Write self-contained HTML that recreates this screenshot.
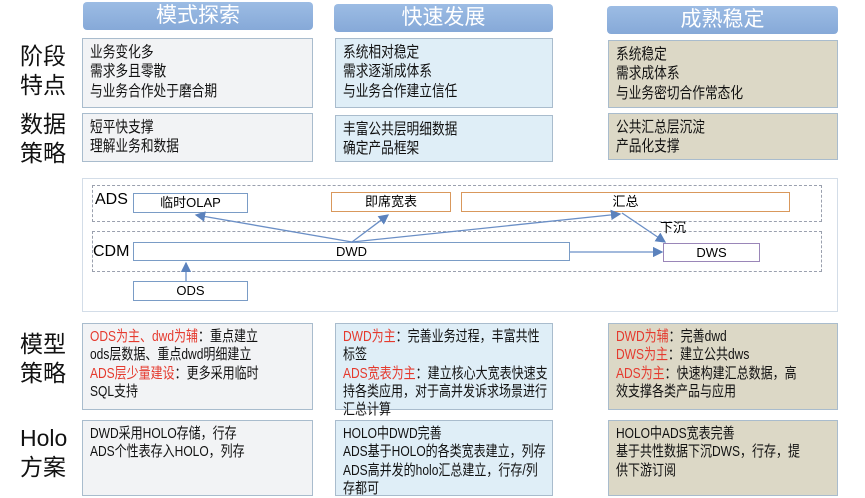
<!DOCTYPE html>
<html><head><meta charset="utf-8"><style>
body{margin:0;width:865px;height:498px;background:#fff;position:relative;overflow:hidden;font-family:"Liberation Sans","Noto Sans CJK SC",sans-serif;}
.a{position:absolute;box-sizing:border-box;}
.h{background:linear-gradient(#9cbce4,#86a9d8);color:#fff;font-size:21px;text-align:center;border-radius:4px;line-height:28px;}
.b{border:1.5px solid #a9bccd;padding:4px 7px;color:#111;}
.b>div{font-size:15.5px;line-height:19.3px;white-space:nowrap;transform:scaleX(0.82);transform-origin:0 0;}
.b>div.s{font-size:15px;line-height:18.3px;transform:scaleX(0.8);}
.c1{background:#f2f3f5;}.c2{background:#dfeef7;}.c3{background:#dcd8c6;}
.l{font-size:23px;line-height:29px;color:#111;}
.r{color:#e53a2e;}
.n{border:1.5px solid #7a9cc6;background:#fff;font-size:13px;text-align:center;line-height:17px;}
.o{border-color:#d9985c;}
.d{border:1.5px dashed #9aa0ae;}
</style></head><body>
<div class="a h" style="left:83px;top:2px;width:230px;height:28px">模式探索</div>
<div class="a h" style="left:334px;top:4px;width:219px;height:28px">快速发展</div>
<div class="a h" style="left:607px;top:6px;width:231px;height:28px">成熟稳定</div>

<div class="a l" style="left:20px;top:42px">阶段<br>特点</div>
<div class="a l" style="left:20px;top:110px">数据<br>策略</div>
<div class="a l" style="left:20px;top:330px">模型<br>策略</div>
<div class="a l" style="left:20px;top:424px">Holo<br>方案</div>

<div class="a b c1" style="left:82px;top:38px;width:231px;height:70px"><div>业务变化多<br>需求多且零散<br>与业务合作处于磨合期</div></div>
<div class="a b c2" style="left:335px;top:38px;width:218px;height:70px"><div>系统相对稳定<br>需求逐渐成体系<br>与业务合作建立信任</div></div>
<div class="a b c3" style="left:608px;top:40px;width:230px;height:68px"><div>系统稳定<br>需求成体系<br>与业务密切合作常态化</div></div>

<div class="a b c1" style="left:82px;top:113px;width:231px;height:49px"><div>短平快支撑<br>理解业务和数据</div></div>
<div class="a b c2" style="left:335px;top:115px;width:218px;height:47px"><div>丰富公共层明细数据<br>确定产品框架</div></div>
<div class="a b c3" style="left:608px;top:113px;width:230px;height:47px"><div>公共汇总层沉淀<br>产品化支撑</div></div>

<div class="a" style="left:82px;top:178px;width:756px;height:134px;border:1.5px solid #d3dde8;background:#fff"></div>
<div class="a d" style="left:92px;top:185px;width:730px;height:37px"></div>
<div class="a d" style="left:92px;top:231px;width:730px;height:41px"></div>
<div class="a" style="left:95px;top:191px;font-size:16px">ADS</div>
<div class="a" style="left:93px;top:243px;font-size:16px">CDM</div>
<div class="a n" style="left:133px;top:193px;width:115px;height:20px">临时OLAP</div>
<div class="a n o" style="left:331px;top:192px;width:120px;height:20px">即席宽表</div>
<div class="a n o" style="left:461px;top:192px;width:329px;height:20px">汇总</div>
<div class="a n" style="left:133px;top:242px;width:437px;height:19px">DWD</div>
<div class="a n" style="left:663px;top:243px;width:97px;height:19px;border-color:#9a86b8">DWS</div>
<div class="a n" style="left:133px;top:281px;width:115px;height:20px">ODS</div>
<div class="a" style="left:660px;top:217px;font-size:13px">下沉</div>
<svg class="a" style="left:0;top:0" width="865" height="498">
<defs><marker id="m" markerWidth="8" markerHeight="8" refX="7" refY="4" orient="auto"><path d="M0,0L8,4L0,8z" fill="#5b82bd"/></marker></defs>
<g stroke="#6b8fc6" stroke-width="1.3" fill="none" marker-end="url(#m)">
<line x1="352" y1="242" x2="196" y2="215"/>
<line x1="352" y1="242" x2="388" y2="215"/>
<line x1="352" y1="242" x2="620" y2="214"/>
<line x1="622" y1="213" x2="665" y2="242"/>
<line x1="570" y1="252" x2="662" y2="252"/>
<line x1="186" y1="281" x2="186" y2="263"/>
</g></svg>

<div class="a b c1" style="left:82px;top:323px;width:231px;height:87px"><div class="s"><span class="r">ODS为主、dwd为辅</span>：重点建立<br>ods层数据、重点dwd明细建立<br><span class="r">ADS层少量建设</span>：更多采用临时<br>SQL支持</div></div>
<div class="a b c2" style="left:335px;top:323px;width:218px;height:87px"><div class="s"><span class="r">DWD为主</span>：完善业务过程，丰富共性<br>标签<br><span class="r">ADS宽表为主</span>：建立核心大宽表快速支<br>持各类应用，对于高并发诉求场景进行<br>汇总计算</div></div>
<div class="a b c3" style="left:608px;top:323px;width:230px;height:87px"><div class="s"><span class="r">DWD为辅</span>：完善dwd<br><span class="r">DWS为主</span>：建立公共dws<br><span class="r">ADS为主</span>：快速构建汇总数据，高<br>效支撑各类产品与应用</div></div>

<div class="a b c1" style="left:82px;top:420px;width:231px;height:76px"><div class="s">DWD采用HOLO存储，行存<br>ADS个性表存入HOLO，列存</div></div>
<div class="a b c2" style="left:335px;top:420px;width:218px;height:76px"><div class="s">HOLO中DWD完善<br>ADS基于HOLO的各类宽表建立，列存<br>ADS高并发的holo汇总建立，行存/列<br>存都可</div></div>
<div class="a b c3" style="left:608px;top:420px;width:230px;height:76px"><div class="s">HOLO中ADS宽表完善<br>基于共性数据下沉DWS，行存，提<br>供下游订阅</div></div>
</body></html>
